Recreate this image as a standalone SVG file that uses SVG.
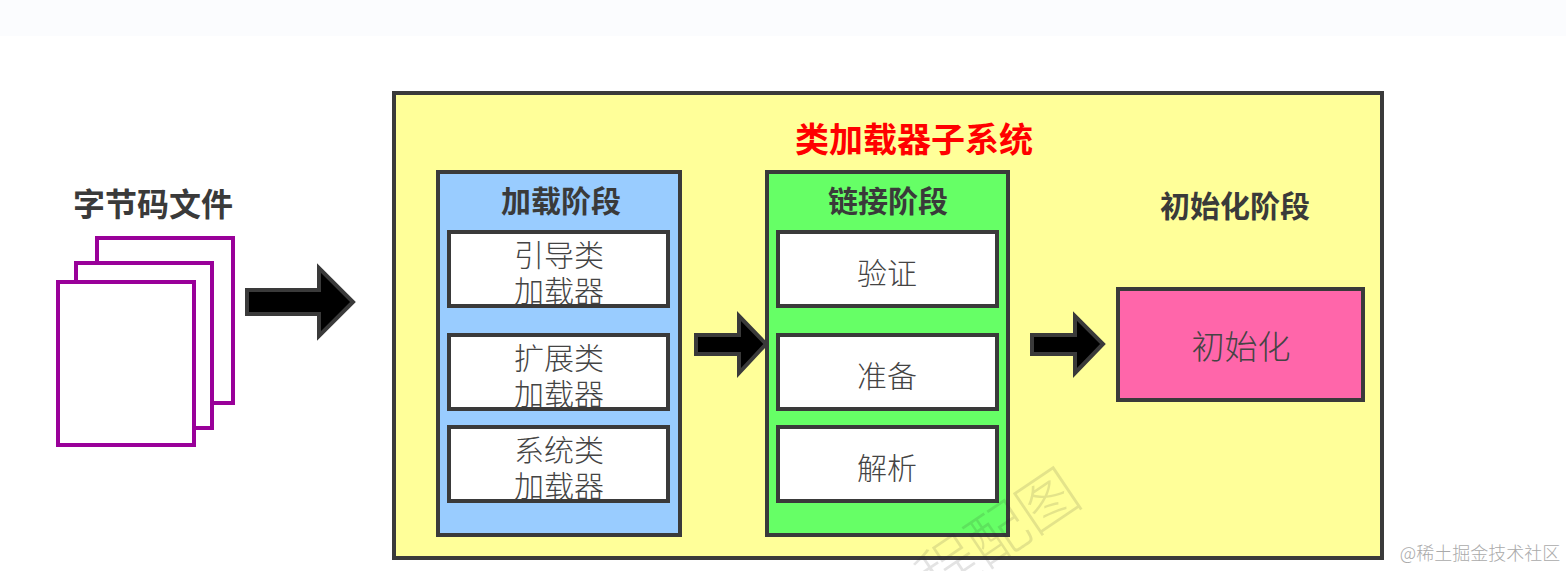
<svg xmlns="http://www.w3.org/2000/svg" width="1566" height="571" viewBox="0 0 1566 571">
<style>
text{font-family:"Noto Sans CJK SC","Liberation Sans",sans-serif;text-anchor:middle}
.box{stroke:#3a3a3a;stroke-width:4}
.page{fill:#fff;stroke:#990099;stroke-width:4}
.inner{fill:#fff}
.frame{fill:none;stroke:#3a3a3a;stroke-width:4}
.title{font-size:30px;font-weight:700;fill:#3a3a3a}
.label{font-size:30px;font-weight:300;fill:#444}
.arrow{fill:#000;stroke:#3a3a3a;stroke-width:4}
</style>
<rect width="1566" height="571" fill="#fff"/>
<rect id="top-band" width="1566" height="36" fill="#fbfcfe"/>
<g id="bytecode-files">
<text class="title" x="153" y="216" style="font-size:32px">字节码文件</text>
<rect class="page" x="97" y="238" width="136" height="165"/>
<rect class="page" x="76" y="263" width="136" height="165"/>
<rect class="page" x="58" y="282" width="136" height="163"/>
</g>
<g id="class-loader-subsystem">
<rect class="box" x="394" y="93" width="988" height="465" fill="#ffff99"/>
<text x="914" y="152" font-size="34" font-weight="700" fill="#ff0000">类加载器子系统</text>
</g>
<g id="loading-stage">
<rect class="box" x="438" y="172" width="242" height="363" fill="#99ccff"/>
<text class="title" x="561" y="212">加载阶段</text>
</g>
<g id="bootstrap-loader">
<rect class="inner" x="449" y="232" width="219" height="74"/>
<text class="label" x="559" y="266">引导类</text><text class="label" x="559" y="302">加载器</text>
<rect class="frame" x="449" y="232" width="219" height="74"/>
</g>
<g id="extension-loader">
<rect class="inner" x="449" y="335" width="219" height="74"/>
<text class="label" x="559" y="369">扩展类</text><text class="label" x="559" y="405">加载器</text>
<rect class="frame" x="449" y="335" width="219" height="74"/>
</g>
<g id="system-loader">
<rect class="inner" x="449" y="427" width="219" height="74"/>
<text class="label" x="559" y="461">系统类</text><text class="label" x="559" y="497">加载器</text>
<rect class="frame" x="449" y="427" width="219" height="74"/>
</g>
<g id="linking-stage">
<rect class="box" x="767" y="172" width="241" height="363" fill="#66ff66"/>
<text class="title" x="888" y="212">链接阶段</text>
</g>
<g id="verify">
<rect class="box" x="778" y="232" width="219" height="74" fill="#fff"/>
<text class="label" x="887" y="284">验证</text>
</g>
<g id="prepare">
<rect class="box" x="778" y="335" width="219" height="74" fill="#fff"/>
<text class="label" x="887" y="387">准备</text>
</g>
<g id="resolve">
<rect class="box" x="778" y="427" width="219" height="74" fill="#fff"/>
<text class="label" x="887" y="479">解析</text>
</g>
<g id="init-stage">
<text class="title" x="1235" y="217">初始化阶段</text>
</g>
<g id="initialization">
<rect class="box" x="1118" y="289" width="245" height="111" fill="#ff66aa"/>
<text x="1241" y="359" font-size="33" font-weight="300" fill="#444">初始化</text>
</g>
<g id="connectors">
<polygon class="arrow" points="247,290 319,290 319,268 353,302 319,336 319,314 247,314"/>
<polygon class="arrow" points="696,335 739,335 739,316 766,344 739,373 739,354 696,354"/>
<polygon class="arrow" points="1032,335 1075,335 1075,316 1103,344 1075,373 1075,354 1032,354"/>
</g>
<g id="watermark" transform="translate(985 569) rotate(-34)" opacity="0.12">
<text x="0" y="0" font-size="60" font-weight="300" fill="#222">教程配图</text>
</g>
<text id="credit" x="1480" y="560" font-size="18" font-weight="300" fill="#aaa">@稀土掘金技术社区</text>
</svg>
